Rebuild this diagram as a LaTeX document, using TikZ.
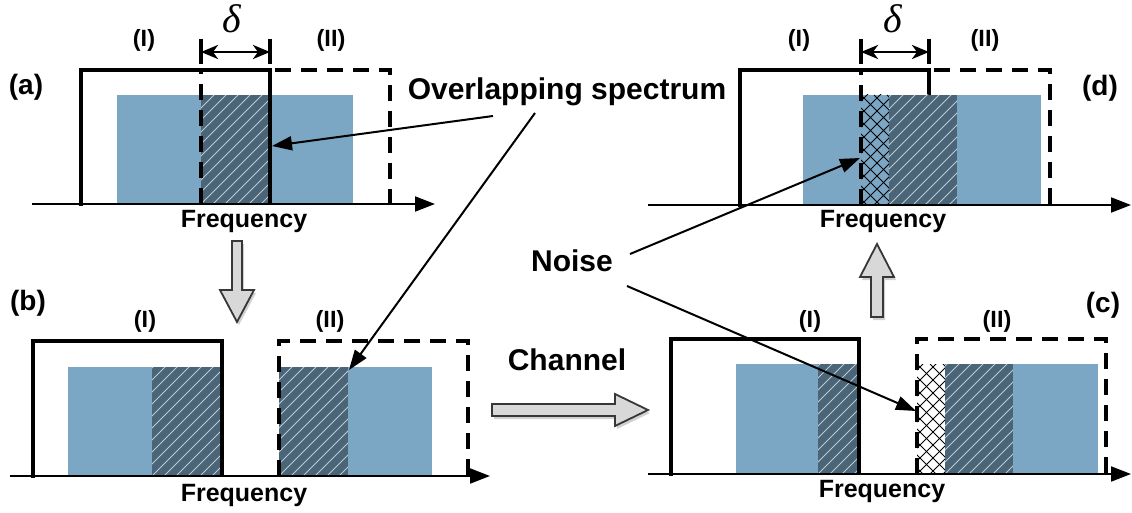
\documentclass[tikz,border=0pt]{standalone}
\usepackage{fontspec}
\setmainfont{Liberation Sans}
\newfontfamily\greekserif{Liberation Serif}
\usetikzlibrary{arrows.meta}

\definecolor{bandblue}{RGB}{123,167,196}
\definecolor{banddark}{RGB}{74,101,120}
\definecolor{blockfill}{RGB}{216,216,216}
\definecolor{blockedge}{RGB}{55,55,55}

\tikzset{
  solidbox/.style={line width=3.8pt, line join=miter},
  dashbox/.style={line width=3.8pt, dash pattern=on 16pt off 10pt},
  freqaxis/.style={line width=2pt, -{Triangle[length=20pt,width=15pt]}},
  callout/.style={line width=2pt, -{Triangle[length=20pt,width=14pt]}},
  deltatick/.style={line width=3.4pt},
  deltaspan/.style={line width=2.8pt, {Stealth[length=17pt,width=14pt,inset=5pt]}-{Stealth[length=17pt,width=14pt,inset=5pt]}},
  hatchline/.style={white, line width=0.9pt, opacity=0.65},
  crossline/.style={black, line width=1pt},
  big/.style={font=\bfseries\fontsize{30}{36}\selectfont, anchor=base, inner sep=0pt},
  freq/.style={font=\bfseries\fontsize{25}{30}\selectfont, anchor=base, inner sep=0pt},
  band/.style={font=\bfseries\fontsize{23.5}{28}\selectfont, anchor=base, inner sep=0pt},
  tag/.style={font=\bfseries\fontsize{28}{32}\selectfont, anchor=base, inner sep=0pt},
  deltalbl/.style={font=\greekserif\itshape\fontsize{40}{44}\selectfont, anchor=base, inner sep=0pt},
  blockarrow/.style={fill=blockfill, draw=blockedge, line width=1.8pt, line join=miter},
  blockshadow/.style={fill=black, opacity=0.18},
}

% shared spectrum band with white diagonal hatching: x1, y-top, x2, y-bottom
\newcommand{\hatchband}[4]{%
  \fill[banddark] (#1,#2) rectangle (#3,#4);
  \begin{scope}
    \clip (#1,#2) rectangle (#3,#4);
    \foreach \k in {-156,-144,...,84} {
      \draw[hatchline] ({#1+\k},#4) -- ++(160,-160);
    }
  \end{scope}}

% noise band with black cross hatching: x1, y-top, x2, y-bottom, background
\newcommand{\crossband}[5]{%
  \fill[#5] (#1,#2) rectangle (#3,#4);
  \begin{scope}
    \clip (#1,#2) rectangle (#3,#4);
    \foreach \k in {-156,-143,...,52} {
      \draw[crossline] ({#1+\k},#4) -- ++(160,-160);
      \draw[crossline] ({#1+\k},#2) -- ++(160,160);
    }
  \end{scope}}

\begin{document}
\begin{tikzpicture}[x=1pt,y=-1pt]
\useasboundingbox (0,0) rectangle (1132,513);

% ---------- (a) transmitted spectra ----------
\fill[bandblue] (117,95) rectangle (353,204);
\hatchband{201}{95}{270}{204}
\draw[dashbox] (201,204) -- (201,70) -- (390,70) -- (390,204);
\draw[solidbox] (81,206) -- (81,70) -- (270,70) -- (270,204);
\draw[freqaxis] (32,204) -- (435,204);
\draw[deltatick] (201,39) -- (201,64);
\draw[deltatick] (270,39) -- (270,64);
\draw[deltaspan] (201,52) -- (270,52);
\node[deltalbl] (deltaA) at (232,33) {δ};
\node[band] (bandAI) at (144,47) {(I)};
\node[band] (bandAII) at (331,47) {(II)};
\node[tag] (tagA) at (26,95) {(a)};
\node[freq] (freqA) at (244,228) {Frequency};

% ---------- (b) split bands ----------
\fill[bandblue] (68,367) rectangle (222,476);
\hatchband{152}{367}{222}{476}
\draw[solidbox] (33,478) -- (33,341) -- (222,341) -- (222,476);
\hatchband{279}{367}{348}{476}
\fill[bandblue] (348,367) rectangle (432,476);
\draw[dashbox] (279,476) -- (279,341) -- (468,341) -- (468,476);
\draw[freqaxis] (10,476) -- (490,476);
\node[band] (bandBI) at (145,327) {(I)};
\node[band] (bandBII) at (330,327) {(II)};
\node[tag] (tagB) at (28,310) {(b)};
\node[freq] (freqB) at (244,501) {Frequency};

% ---------- (c) received bands ----------
\fill[bandblue] (736,364) rectangle (859,474);
\hatchband{818}{364}{859}{474}
\draw[solidbox] (671,476) -- (671,339) -- (859,339) -- (859,474);
\crossband{917}{364}{945}{474}{white}
\hatchband{945}{364}{1013}{474}
\fill[bandblue] (1013,364) rectangle (1098,474);
\draw[dashbox] (917,474) -- (917,339) -- (1106,339) -- (1106,474);
\draw[freqaxis] (648,474) -- (1131,474);
\node[band] (bandCI) at (810,327) {(I)};
\node[band] (bandCII) at (997,327) {(II)};
\node[tag] (tagC) at (1103,312) {(c)};
\node[freq] (freqC) at (882,497) {Frequency};

% ---------- (d) recombined spectra ----------
\draw[solidbox] (740,207) -- (740,70) -- (929,70) -- (929,100);
\fill[bandblue] (803,95) rectangle (1041,205);
\crossband{861}{95}{889}{205}{bandblue}
\hatchband{889}{95}{957}{205}
\draw[dashbox] (861,205) -- (861,70) -- (1050,70) -- (1050,205);
\draw[freqaxis] (648,205) -- (1131,205);
\draw[deltatick] (861,39) -- (861,64);
\draw[deltatick] (929,39) -- (929,64);
\draw[deltaspan] (861,52) -- (929,52);
\node[deltalbl] (deltaD) at (893,33) {δ};
\node[band] (bandDI) at (799,47) {(I)};
\node[band] (bandDII) at (985,47) {(II)};
\node[tag] (tagD) at (1100,96) {(d)};
\node[freq] (freqD) at (883,228) {Frequency};

% ---------- block arrows between stages ----------
\begin{scope}[shift={(2,3)}]
  \fill[blockshadow] (232,241) -- (242,241) -- (242,290) -- (254,290) -- (237,322) -- (220,290) -- (232,290) -- cycle;
  \fill[blockshadow] (492,404) -- (615,404) -- (615,394) -- (648,410) -- (615,426) -- (615,416) -- (492,416) -- cycle;
  \fill[blockshadow] (871,317) -- (871,277) -- (860,277) -- (877,244) -- (894,277) -- (883,277) -- (883,317) -- cycle;
\end{scope}
\draw[blockarrow] (232,241) -- (242,241) -- (242,290) -- (254,290) -- (237,322) -- (220,290) -- (232,290) -- cycle;
\draw[blockarrow] (492,404) -- (615,404) -- (615,394) -- (648,410) -- (615,426) -- (615,416) -- (492,416) -- cycle;
\draw[blockarrow] (871,317) -- (871,277) -- (860,277) -- (877,244) -- (894,277) -- (883,277) -- (883,317) -- cycle;

% ---------- annotations ----------
\node[big] (overlap) at (567,100) {Overlapping spectrum};
\node[big] (noise) at (572,271) {Noise};
\node[big] (channel) at (567,370) {Channel};

\coordinate (overlapL) at (493,116);
\coordinate (overlapR) at (535,113);
\coordinate (noiseUp) at (630,254);
\coordinate (noiseDown) at (627,286);
\coordinate (shareA) at (272,146);
\coordinate (shareB) at (349,370);
\coordinate (noiseD) at (860,158);
\coordinate (noiseC) at (916,411);

\draw[callout] (overlapL) -- (shareA);
\draw[callout] (overlapR) -- (shareB);
\draw[callout] (noiseUp) -- (noiseD);
\draw[callout] (noiseDown) -- (noiseC);
\end{tikzpicture}
\end{document}
